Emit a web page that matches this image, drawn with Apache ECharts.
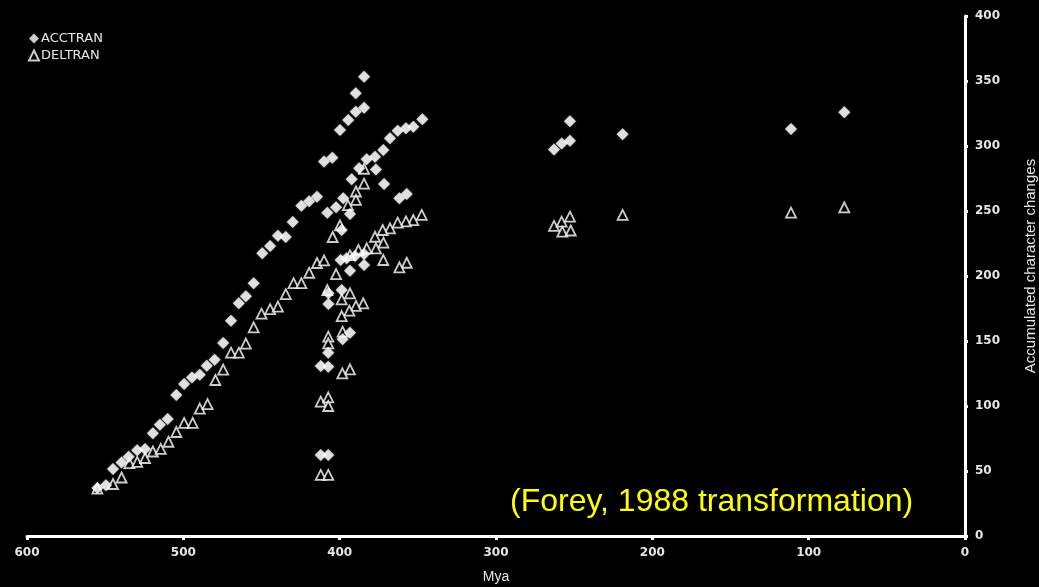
<!DOCTYPE html>
<html>
<head>
<meta charset="utf-8">
<script src="https://cdn.jsdelivr.net/npm/echarts@6/dist/echarts.min.js"></script>
<style>
html,body{margin:0;padding:0;background:#000;}
#chart{width:1039px;height:587px;}
</style>
</head>
<body>
<div id="chart"></div>
<script>
// ---- data (Mya, accumulated character changes) ----
var acctranMya = [
  555,549.5,545,539.5,535,529.5,524.5,519.5,515,510,504.5,499.5,494.5,489.5,485,480,474.5,469.5,464.5,460,455,449.5,444.5,439.5,434.5,430,424.5,419.5,414.5,
  410,404.7,399.8,394.5,389.7,384.4,389.7,384.4,347.1,352.9,357.6,362.9,367.8,372.1,377.4,382.7,376.8,387.5,392.3,371.6,357.1,361.8,397.7,402.3,407.9,393.4,398.7,
  399.4,395.5,390.2,384.4,384.4,393.4,398.7,407.2,407.2,393.4,398.1,407.3,412.1,407.3,412.1,407.3,
  262.9,258,252.7,252.7,219,111.3,77.2
];
var acctranVal = [
  37,39,51.5,56.5,61,66,67,79,85.5,90,108.5,117,122,124,131,135.5,148.5,165.5,179,184.5,194.5,217.5,223,231,230,241.5,254,257.5,261,
  288,291,312.3,320,326.4,329.5,340.5,353.3,320.5,314.9,313.6,311.8,305.9,296.9,291.8,289.8,282,282.8,274.4,270.8,263,259.8,259.8,252.8,248.7,247.7,235.4,
  212.3,213.6,215.4,216.9,208.5,204.1,189.2,186.7,178.5,156.4,151.3,141,130.8,130.2,62.3,62.3,
  297.4,302,304,319,309,313,326
];
var deltranMya = [
  555,545,539.5,534.5,529.5,524.5,519.5,514.5,509.5,504.5,499.5,494,489.5,484.5,479.5,474.5,469.5,464.5,460,455,450,444.5,439.5,434.5,429.5,424.5,419.5,414.5,410,404.5,
  384.4,384.4,389.6,389.6,394.7,399.8,347.5,352.9,357.6,362.9,367.8,372.5,377.4,372,376.8,382.7,388,393.4,357.1,361.8,372.1,402.3,407.9,393.4,398.7,384.9,389.6,393.8,398.7,
  407.3,407.3,398.1,393.4,398.3,412.1,407.3,407.3,412.1,407.3,
  262.9,258,252.7,257.6,252.2,219,111.3,77.2
];
var deltranVal = [
  36.5,40,45,56,57,60,65,67,72.5,80,87,87,98,101.5,120,128,141,141,148,160.5,171,174.5,176.5,186,194.5,194.5,202.5,210,212,230,
  282.5,271,265,258.5,254.5,239,247,243,242,241,236.7,235.4,230.2,225.6,221.3,221.3,220,216,210.2,206.7,212.3,201.5,189.2,186.7,182,179,177,173.3,169.2,
  153.3,148.2,157.2,128.2,125.1,103.3,106.7,100,47,47,
  238.5,241.8,245.6,234.1,235,247,248.7,252.8
];
var seriesNames = ['ACCTRAN', 'DELTRAN'];
var xTicks = {min: 0, max: 600, step: 100};
var yTicks = {min: 0, max: 400, step: 50};
var xName = 'Mya';
var yName = 'Accumulated character changes';
var noteText = '(Forey, 1988 transformation)';

function pairs(xs, ys){ return xs.map(function(x,i){ return [x, ys[i]]; }); }

var chart = echarts.init(document.getElementById('chart'), null, {renderer:'canvas'});
var tickFont = {color:'#e6e6e6', fontFamily:'DejaVu Sans', fontWeight:'bold', fontSize:12};
chart.setOption({
  backgroundColor:'#000',
  animation:false,
  grid:{left:27, right:74, top:16, bottom:51, containLabel:false, outerBoundsMode:'none'},
  legend:{
    orient:'vertical', left:23, top:27, itemWidth:10, itemHeight:10, itemGap:4,
    textStyle:{color:'#e6e6e6', fontFamily:'DejaVu Sans', fontSize:13, padding:[0,0,0,-3]},
    data:seriesNames
  },
  xAxis:{
    type:'value', inverse:true, min:xTicks.min, max:xTicks.max, interval:xTicks.step,
    name:xName, nameLocation:'middle', nameGap:34,
    nameTextStyle:{color:'#e6e6e6', fontFamily:'Liberation Sans', fontSize:14},
    axisLine:{show:true, onZero:false, lineStyle:{color:'#fff', width:3}},
    axisTick:{show:true, length:4, lineStyle:{color:'#fff', width:3}},
    axisLabel:Object.assign({margin:11}, tickFont),
    splitLine:{show:false}
  },
  yAxis:{
    type:'value', position:'right', min:yTicks.min, max:yTicks.max, interval:yTicks.step,
    name:yName, nameLocation:'middle', nameGap:58, nameRotate:90,
    nameTextStyle:{color:'#e6e6e6', fontFamily:'Liberation Sans', fontSize:15, padding:[0,0,0,20]},
    axisLine:{show:true, onZero:false, lineStyle:{color:'#fff', width:3}},
    axisTick:{show:true, length:3, lineStyle:{color:'#fff', width:3}},
    axisLabel:Object.assign({margin:10}, tickFont),
    splitLine:{show:false}
  },
  graphic:[{
    type:'text', left:510, top:486,
    style:{text:noteText, fill:'#ffff00', font:'32px "Liberation Sans", Arial, sans-serif'}
  }],
  series:[
    {
      name:seriesNames[0], type:'scatter', symbol:'diamond', symbolSize:12,
      itemStyle:{color:'#fff', shadowColor:'rgba(255,255,255,0.5)', shadowBlur:2},
      data:pairs(acctranMya, acctranVal), z:3
    },
    {
      name:seriesNames[1], type:'scatter', symbol:'triangle', symbolSize:10,
      itemStyle:{color:'#000', borderColor:'#fff', borderWidth:1.8},
      data:pairs(deltranMya, deltranVal), z:2
    }
  ]
});
</script>
</body>
</html>
